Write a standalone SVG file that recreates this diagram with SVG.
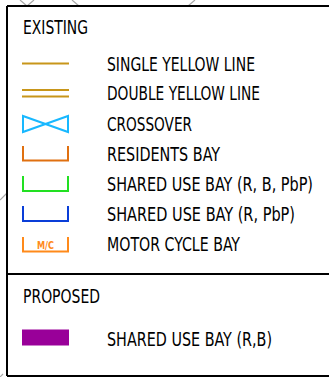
<svg xmlns="http://www.w3.org/2000/svg" width="329" height="377" viewBox="0 0 329 377">
<style>
.bg{fill:#ffffff}
.frame{stroke:#000;stroke-width:2;fill:none}
.map{stroke:#a8a8a8;stroke-width:1.2;fill:none}
.sym{fill:none;stroke-width:2}
.t{font-family:"DejaVu Sans Condensed","Liberation Sans Narrow","Liberation Sans",sans-serif;font-size:16.5px;fill:#000}
.mc{font-family:"DejaVu Sans Condensed","Liberation Sans",sans-serif;font-size:10px;font-weight:bold;fill:#ff8a1a}
</style>
<rect class="bg" x="0" y="0" width="329" height="377"/>
<g id="background-map">
<path class="map" d="M20,0 L27,6 M34,0 L27,6 M72,0 L79,6 M195,0 L188,6 M0,200 L7,193 M0,377 L3,374"/>
</g>
<g id="frame">
<path class="frame" d="M7,6 H329 M7,6 V376 M7,274 H329 M7,376 H329"/>
</g>
<g id="existing-title">
<text class="t" transform="translate(23,34) scale(1,1.18)" textLength="65" lengthAdjust="spacingAndGlyphs">EXISTING</text>
</g>
<g id="single-yellow-line">
<path class="sym" stroke="#c8961a" d="M22,63.5 H69"/>
<text class="t" transform="translate(107,70.5) scale(1,1.18)" textLength="148" lengthAdjust="spacingAndGlyphs">SINGLE YELLOW LINE</text>
</g>
<g id="double-yellow-line">
<path class="sym" stroke="#c8961a" d="M22,90 H69 M22,96.5 H69"/>
<text class="t" transform="translate(107,100) scale(1,1.18)" textLength="153" lengthAdjust="spacingAndGlyphs">DOUBLE YELLOW LINE</text>
</g>
<g id="crossover">
<path class="sym" stroke="#18b8ff" d="M23,116 V132 L68,116 V132 L23,116 Z"/>
<text class="t" transform="translate(107,130.5) scale(1,1.18)" textLength="85" lengthAdjust="spacingAndGlyphs">CROSSOVER</text>
</g>
<g id="residents-bay">
<path class="sym" stroke="#e07010" d="M23,146 V160.5 H68 V146"/>
<text class="t" transform="translate(107,161) scale(1,1.18)" textLength="113" lengthAdjust="spacingAndGlyphs">RESIDENTS BAY</text>
</g>
<g id="shared-use-bay-r-b-pbp">
<path class="sym" stroke="#22e022" d="M23,176 V191 H68 V176"/>
<text class="t" transform="translate(107,191) scale(1,1.18)" textLength="206" lengthAdjust="spacingAndGlyphs">SHARED USE BAY (R, B, PbP)</text>
</g>
<g id="shared-use-bay-r-pbp">
<path class="sym" stroke="#0a3ed8" d="M23,206 V221 H68 V206"/>
<text class="t" transform="translate(107,221) scale(1,1.18)" textLength="188" lengthAdjust="spacingAndGlyphs">SHARED USE BAY (R, PbP)</text>
</g>
<g id="motor-cycle-bay">
<path class="sym" stroke="#ff8a1a" d="M23,237 V251.5 H68 V237"/>
<text class="mc" x="45.5" y="248.5" text-anchor="middle" textLength="17" lengthAdjust="spacingAndGlyphs">M/C</text>
<text class="t" transform="translate(107,251) scale(1,1.18)" textLength="133" lengthAdjust="spacingAndGlyphs">MOTOR CYCLE BAY</text>
</g>
<g id="proposed-title">
<text class="t" transform="translate(23,303) scale(1,1.18)" textLength="77" lengthAdjust="spacingAndGlyphs">PROPOSED</text>
</g>
<g id="proposed-shared-use-bay-r-b">
<rect x="22" y="329.5" width="47" height="16" fill="#990099"/>
<text class="t" transform="translate(107,346) scale(1,1.18)" textLength="165" lengthAdjust="spacingAndGlyphs">SHARED USE BAY (R,B)</text>
</g>
<g id="connectors"></g>
</svg>
